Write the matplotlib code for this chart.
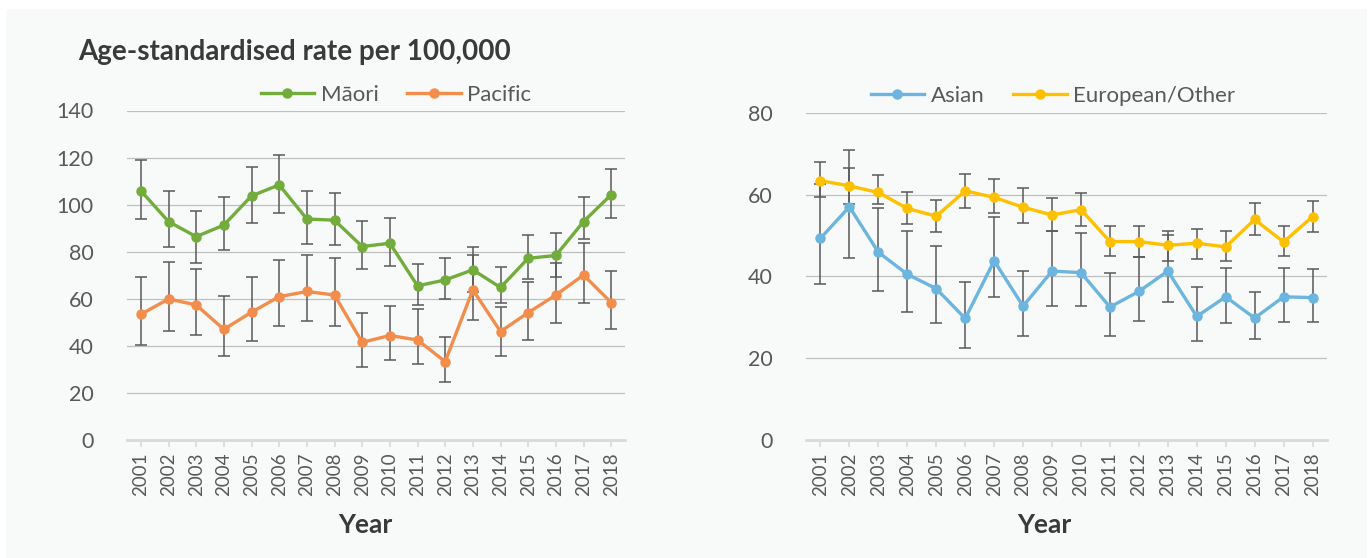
import matplotlib.pyplot as plt
from matplotlib.lines import Line2D
from matplotlib.patches import Rectangle

years = [str(y) for y in range(2001, 2019)]

maori = [105.9, 92.8, 86.4, 91.3, 103.7, 108.4, 93.9, 93.4, 82.2, 83.6,
         65.5, 68.0, 72.3, 64.8, 77.2, 78.4, 92.8, 104.2]
maori_lo = [93.8, 81.9, 75.1, 80.8, 92.1, 96.4, 83.3, 82.9, 72.6, 74.0,
            57.4, 59.8, 63.0, 58.4, 68.3, 69.4, 85.3, 94.2]
maori_hi = [119.0, 105.6, 97.5, 103.4, 116.2, 121.2, 105.6, 104.9, 93.1, 94.2,
            74.7, 77.5, 81.9, 73.7, 87.1, 88.1, 103.4, 115.2]

pacific = [53.4, 59.9, 57.4, 47.0, 54.3, 60.9, 63.1, 61.6, 41.5, 44.4,
           42.5, 33.3, 63.8, 46.1, 54.1, 61.6, 70.1, 58.4]
pacific_lo = [40.4, 46.5, 44.6, 35.9, 42.1, 48.5, 50.7, 48.5, 31.2, 34.0,
              32.2, 24.5, 51.0, 35.9, 42.5, 49.6, 58.4, 47.3]
pacific_hi = [69.4, 75.8, 72.6, 61.2, 69.4, 76.5, 78.6, 77.5, 53.8, 57.0,
              55.5, 43.9, 78.6, 56.4, 67.3, 75.4, 83.6, 71.6]

asian = [49.3, 57.0, 45.9, 40.5, 37.0, 29.7, 43.8, 32.7, 41.3, 40.9,
         32.5, 36.3, 41.3, 30.2, 35.0, 29.8, 35.0, 34.8]
asian_lo = [38.1, 44.6, 36.4, 31.4, 28.5, 22.4, 35.0, 25.3, 32.8, 32.8,
            25.4, 29.1, 33.7, 24.1, 28.5, 24.6, 28.9, 28.9]
asian_hi = [62.6, 71.0, 56.6, 51.2, 47.4, 38.7, 54.6, 41.4, 51.2, 50.7,
            40.9, 44.7, 50.0, 37.4, 42.1, 36.2, 42.1, 41.7]

european = [63.4, 62.1, 60.5, 56.6, 54.7, 60.9, 59.3, 56.9, 55.0, 56.3,
            48.5, 48.5, 47.6, 48.1, 47.2, 53.9, 48.4, 54.6]
european_lo = [59.3, 57.8, 57.7, 52.8, 50.9, 56.8, 55.4, 53.1, 51.2, 52.4,
               44.9, 44.7, 43.7, 44.3, 43.7, 50.2, 44.9, 50.8]
european_hi = [67.9, 66.6, 64.8, 60.7, 58.6, 65.0, 63.9, 61.5, 59.2, 60.3,
               52.3, 52.3, 51.0, 51.6, 51.0, 57.9, 52.3, 58.5]

plt.rcParams['font.family'] = ['Lato', 'DejaVu Sans']

TEXT = '#595959'
GRID = '#BFBFBF'
AXIS = '#D9D9D9'
BG = '#F8F9F9'
ERR = '#595959'

W, H = 1370, 558
fig = plt.figure(figsize=(W / 100, H / 100), dpi=100, facecolor='white')
fig.patches.append(Rectangle((6 / W, 0), (1367 - 6) / W, 1 - 9 / H,
                             transform=fig.transFigure, facecolor=BG,
                             edgecolor='none', zorder=-10))


def draw_series(ax, vals, lo, hi, color):
    x = range(len(years))
    yerr = [[v - l for v, l in zip(vals, lo)], [h - v for v, h in zip(vals, hi)]]
    ax.errorbar(x, vals, yerr=yerr, fmt='none', ecolor=ERR, elinewidth=1.1,
                capsize=4, capthick=1.1, zorder=2)
    ax.plot(x, vals, color=color, lw=2.4, marker='o', ms=6.5, zorder=3)


def style_axis(ax, ymax, step):
    ax.set_facecolor(BG)
    ax.set_xlim(-0.5, len(years) - 0.5)
    ax.set_ylim(0, ymax)
    ax.set_yticks(range(0, ymax + 1, step))
    ax.set_xticks(range(len(years)))
    ax.set_xticklabels(years, rotation=90)
    for s in ['top', 'right', 'left']:
        ax.spines[s].set_visible(False)
    ax.spines['bottom'].set_color(AXIS)
    ax.spines['bottom'].set_linewidth(2)
    ax.grid(axis='y', color=GRID, lw=0.9)
    ax.set_axisbelow(True)
    ax.tick_params(axis='y', length=0, labelsize=15.5, labelcolor=TEXT, pad=24)
    ax.tick_params(axis='x', length=5, width=1.2, color=AXIS, labelsize=13.5,
                   labelcolor=TEXT, pad=4)


def legend(labels, colors, cx, cy):
    handles = [Line2D([], [], color=c, lw=2.4, marker='o', ms=6.5) for c in colors]
    fig.legend(handles, labels, loc='center', bbox_to_anchor=(cx / W, 1 - cy / H),
               ncol=2, frameon=False, fontsize=16, labelcolor=TEXT,
               handlelength=2.4, handletextpad=0.3, columnspacing=1.3)


ax1 = fig.add_axes([127 / W, 1 - 440 / H, (625 - 127) / W, (440 - 110.5) / H])
draw_series(ax1, maori, maori_lo, maori_hi, '#72AC3A')
draw_series(ax1, pacific, pacific_lo, pacific_hi, '#F28D4C')
style_axis(ax1, 140, 20)
legend(['Māori', 'Pacific'], ['#72AC3A', '#F28D4C'], 396, 95)

ax2 = fig.add_axes([806 / W, 1 - 440 / H, (1327 - 806) / W, (440 - 112.7) / H])
draw_series(ax2, asian, asian_lo, asian_hi, '#6CB5DE')
draw_series(ax2, european, european_lo, european_hi, '#FFC000')
style_axis(ax2, 80, 20)
legend(['Asian', 'European/Other'], ['#6CB5DE', '#FFC000'], 1053, 96)

fig.text(78 / W, 1 - 52 / H, 'Age-standardised rate per 100,000', fontsize=20,
         fontweight='bold', color='#3A3A3A', va='center', ha='left')
fig.text(365 / W, 1 - 525 / H, 'Year', fontsize=19, fontweight='bold',
         color='#3A3A3A', va='center', ha='center')
fig.text(1044 / W, 1 - 525 / H, 'Year', fontsize=19, fontweight='bold',
         color='#3A3A3A', va='center', ha='center')

fig.savefig('out.png', dpi=100, facecolor='white')
